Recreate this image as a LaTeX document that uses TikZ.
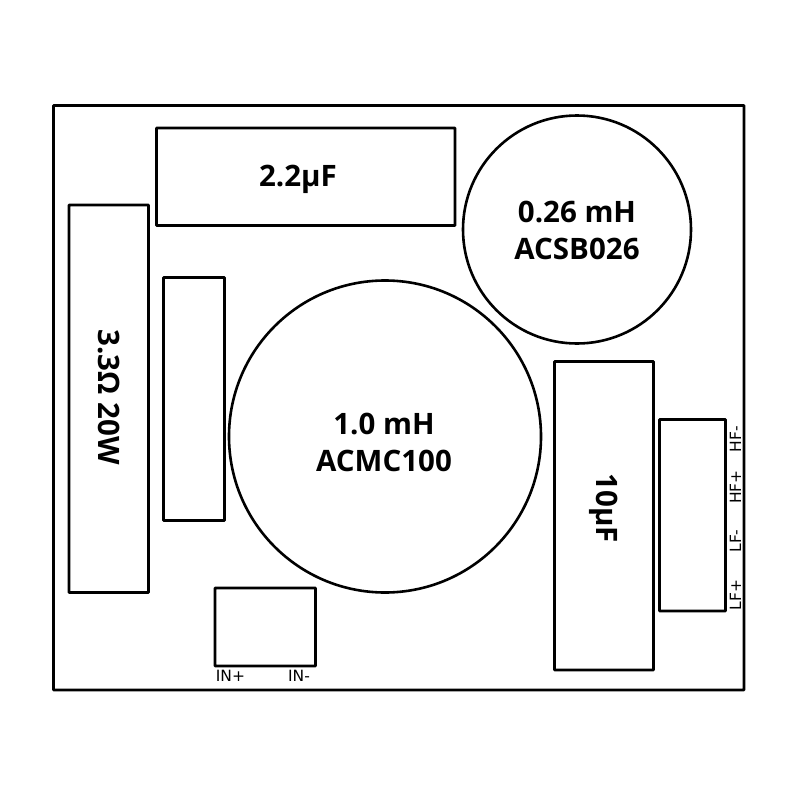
\documentclass[tikz,border=0pt]{standalone}
\usepackage{fontspec}
\setmainfont{Open Sans}
\newfontfamily\pinfont{DejaVu Sans}
\tikzset{
  part/.style={draw=black,line width=2.6pt,fill=white,inner sep=0pt,outer sep=0pt,rounded corners=0.5pt},
  biglabel/.style={font=\fontsize{29.5}{37}\selectfont\bfseries,align=center,text=black},
  pin/.style={font=\pinfont\fontsize{15.5}{18}\selectfont,text=black,inner sep=0pt},
}
\begin{document}
\begin{tikzpicture}[x=1pt,y=-1pt]
\useasboundingbox (0,0) rectangle (798,798);
\fill[white] (0,0) rectangle (798,798);
\draw[part] (53.5,105.5) rectangle (744,690);
\draw[part] (156.5,128) rectangle (455,225.5);
\node[biglabel] (c22) at (298,179.5) {2.2µF};
\draw[part] (69,205) rectangle (148.5,592.5);
\node[biglabel,rotate=-90] (r33) at (109,397) {3.3Ω 20W};
\draw[part] (163.5,277.5) rectangle (224.5,520.5);
\draw[part] (215,588) rectangle (315.5,666);
\draw[part] (554.5,361.5) rectangle (653.5,670);
\node[biglabel,rotate=-90] (c10) at (604,508) {10µF};
\draw[part] (659.5,419.5) rectangle (725.5,611);
\node[part,circle,minimum size=312pt] (l1) at (385,436.5) {};
\node[biglabel] at (384,442.5) {1.0 mH\\ACMC100};
\node[part,circle,minimum size=228pt] (l2) at (577,229.5) {};
\node[biglabel] at (577,230) {0.26 mH\\ACSB026};
\node[pin] (inp) at (230.5,675.5) {IN+};
\node[pin] (inn) at (299,675.5) {IN-};
\node[pin,rotate=90] (hfn) at (735.5,439) {HF-};
\node[pin,rotate=90] (hfp) at (735.5,487) {HF+};
\node[pin,rotate=90] (lfn) at (735.5,541) {LF-};
\node[pin,rotate=90] (lfp) at (735.5,595) {LF+};
\end{tikzpicture}
\end{document}
